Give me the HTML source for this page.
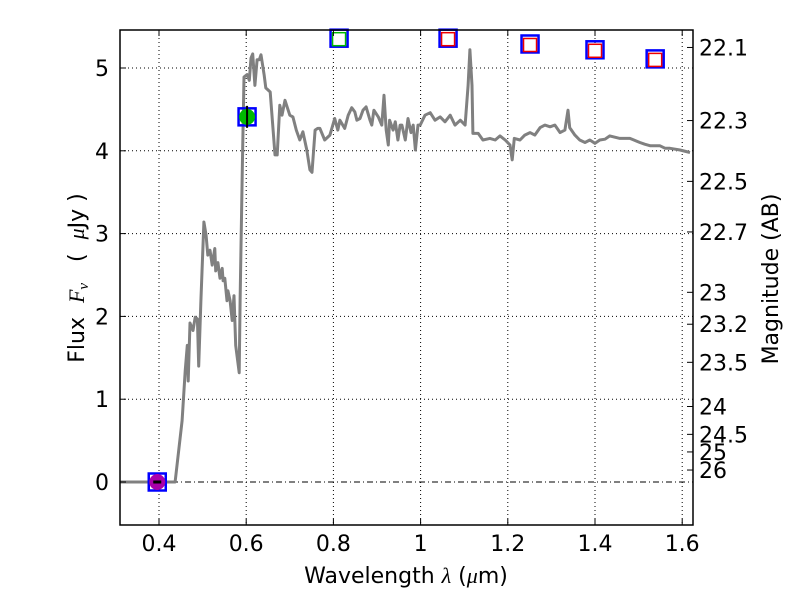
<!DOCTYPE html>
<html><head><meta charset="utf-8"><style>
body{margin:0;background:#fff;width:800px;height:600px;overflow:hidden}
svg text{font-family:"DejaVu Sans","Liberation Sans",sans-serif;fill:#000}
</style></head><body>
<svg id="chart" width="800" height="600" xmlns="http://www.w3.org/2000/svg">
<rect x="0" y="0" width="800" height="600" fill="#fff"/>
<g id="grid"></g>
<g id="plot"></g>
<g id="axes"></g>
<text x="406" y="583" font-size="22" text-anchor="middle">Wavelength  <tspan font-style="italic" font-family="Liberation Serif">λ</tspan> (<tspan font-style="italic" font-family="Liberation Serif">μ</tspan>m)</text>
<text transform="translate(84,278) rotate(-90)" font-size="22" text-anchor="middle" xml:space="preserve">Flux  <tspan font-style="italic" font-family="Liberation Serif">F</tspan><tspan font-style="italic" font-family="Liberation Serif" font-size="15" dy="4">ν</tspan><tspan dy="-4">   (  </tspan><tspan font-style="italic" font-family="Liberation Serif">μ</tspan>Jy )</text>
<text transform="translate(778,279) rotate(-90)" font-size="22" text-anchor="middle">Magnitude (AB)</text>
</svg>
<script>
const specLam=[0.310,0.437,0.453,0.460,0.465,0.467,0.471,0.478,0.483,0.488,0.491,0.496,0.503,0.508,0.512,0.517,0.522,0.528,0.530,0.535,0.540,0.545,0.547,0.551,0.556,0.558,0.563,0.568,0.572,0.576,0.584,0.586,0.591,0.595,0.602,0.607,0.611,0.615,0.620,0.625,0.630,0.634,0.641,0.645,0.655,0.666,0.671,0.677,0.682,0.689,0.700,0.707,0.715,0.723,0.730,0.739,0.746,0.751,0.758,0.764,0.769,0.780,0.792,0.803,0.810,0.815,0.826,0.834,0.842,0.849,0.854,0.861,0.868,0.875,0.884,0.888,0.893,0.903,0.911,0.916,0.921,0.926,0.929,0.937,0.942,0.948,0.953,0.957,0.965,0.971,0.978,0.983,0.988,0.994,0.999,1.010,1.022,1.033,1.045,1.056,1.068,1.079,1.091,1.102,1.109,1.113,1.118,1.120,1.132,1.143,1.159,1.171,1.182,1.194,1.205,1.210,1.215,1.228,1.239,1.251,1.262,1.274,1.285,1.297,1.308,1.320,1.331,1.338,1.342,1.354,1.365,1.377,1.388,1.400,1.411,1.423,1.434,1.457,1.480,1.503,1.514,1.527,1.549,1.561,1.572,1.595,1.618];
const specFlux=[0,0,0.74,1.34,1.65,1.22,1.92,1.83,1.99,1.97,1.40,2.19,3.14,2.98,2.74,2.80,2.62,2.82,2.55,2.65,2.46,2.58,2.43,2.46,2.19,2.31,2.19,1.95,2.25,1.65,1.32,2.19,3.77,4.89,4.92,4.85,5.12,5.17,4.79,5.10,5.10,5.16,4.92,4.76,4.71,3.95,3.95,4.55,4.43,4.61,4.43,4.41,4.25,4.13,4.23,4.01,3.77,3.74,4.25,4.27,4.27,4.13,4.19,4.39,4.25,4.37,4.27,4.43,4.52,4.47,4.37,4.39,4.49,4.53,4.37,4.31,4.49,4.41,4.31,4.67,4.25,4.07,4.37,4.25,4.35,4.13,4.31,4.31,4.13,4.39,4.22,4.31,4.01,4.31,4.31,4.43,4.46,4.37,4.41,4.35,4.43,4.31,4.37,4.31,4.79,5.22,4.79,4.21,4.21,4.13,4.15,4.13,4.18,4.13,4.07,3.89,4.15,4.13,4.19,4.22,4.19,4.28,4.31,4.29,4.31,4.22,4.25,4.49,4.28,4.19,4.13,4.10,4.13,4.09,4.13,4.14,4.18,4.15,4.15,4.10,4.08,4.06,4.06,4.03,4.03,4.01,3.98];
const obsLam=[0.396,0.602];
const obsFlux=[0,4.41];
const obsColor=["#a0a","#0b0"];
const limLam=[0.813,1.063,1.251,1.400,1.538];
const limFlux=[5.36,5.36,5.29,5.22,5.11];
const limColor=["#0b0","#e00","#e00","#e00","#e00"];
const xTicks=[0.4,0.6,0.8,1.0,1.2,1.4,1.6];
const xTickLabels=["0.4","0.6","0.8","1","1.2","1.4","1.6"];
const yTicks=[0,1,2,3,4,5];
const magTicks=[22.1,22.3,22.5,22.7,23,23.2,23.5,24,24.5,25,26];

const L=120,R=693,T=30,B=525;
const X=v=>159+(v-0.4)*436;
const Y=v=>482-v*82.8;
const NS="http://www.w3.org/2000/svg";
function mk(tag,parent,attrs){const e=document.createElementNS(NS,tag);for(const k in attrs)e.setAttribute(k,attrs[k]);parent.appendChild(e);return e;}
const grid=document.getElementById('grid'),plot=document.getElementById('plot'),axes=document.getElementById('axes');

xTicks.forEach((t,i)=>{
  const x=X(t);
  const g=mk('line',grid,{x1:x,x2:x,y1:T,y2:B,stroke:'#000','stroke-width':1,'stroke-dasharray':'1,3'});
  
  
  const tk=mk('line',axes,{x1:x,x2:x,y1:B,y2:B-6,stroke:'#000'});
  
  
  const tk2=mk('line',axes,{x1:x,x2:x,y1:T,y2:T+6,stroke:'#000'});
  
  
  const lb=mk('text',axes,{x:x,y:B+26,'font-size':22,'text-anchor':'middle'});
  lb.textContent=xTickLabels[i];
  
  
});
yTicks.forEach(t=>{
  const y=Y(t);
  const g=mk('line',grid,{x1:L,x2:R,y1:y,y2:y,stroke:'#000','stroke-width':1,'stroke-dasharray':t===0?'6,3,1,3':'1,3'});
  
  
  const tk=mk('line',axes,{x1:L,x2:L+6,y1:y,y2:y,stroke:'#000'});
  
  
  const lb=mk('text',axes,{x:L-11,y:y+8,'font-size':22,'text-anchor':'end'});
  lb.textContent=String(t);
  
  
});
magTicks.forEach(m=>{
  const f=Math.pow(10,(23.9-m)/2.5);
  const y=Y(f);
  const tk=mk('line',axes,{x1:R-6,x2:R,y1:y,y2:y,stroke:'#000'});
  
  
  const lb=mk('text',axes,{x:R+6,y:y+8,'font-size':22});
  lb.textContent=String(m);
  
  
});

const clip=mk('clipPath',plot,{id:'pc'});
mk('rect',clip,{x:L,y:T,width:R-L,height:B-T});
const cg=mk('g',plot,{'clip-path':'url(#pc)'});
const pts=specLam.map((l,i)=>X(l).toFixed(1)+','+Y(specFlux[i]).toFixed(1)).join(' ');
const sp=mk('polyline',cg,{points:pts,fill:'none',stroke:'#808080','stroke-width':3,'stroke-linejoin':'round'});



limLam.forEach((l,i)=>{
  const x=X(l),y=Y(limFlux[i]);
  const b=mk('rect',plot,{x:x-8.5,y:y-8.5,width:17,height:17,fill:'none',stroke:'#00f','stroke-width':2.5});
  
  
  const r=mk('rect',plot,{x:x-6.5,y:y-5.5,width:13,height:13,fill:'#fff',stroke:limColor[i],'stroke-width':1.5});
  
  
});
obsLam.forEach((l,i)=>{
  const x=X(l),y=Y(obsFlux[i]);
  const b=mk('rect',plot,{x:x-8.5,y:y-8.5,width:17,height:17,fill:'none',stroke:'#00f','stroke-width':2.5});
  
  
  const c=mk('circle',plot,{cx:x,cy:y,r:8,fill:obsColor[i]});
  
  
  const e=mk('line',plot,{x1:i?x:x-4,x2:i?x:x+4,y1:y-(i?11:0),y2:y+(i?11:0),stroke:'#000','stroke-width':i?2:3});
  
  
});
const fr=mk('rect',axes,{x:L,y:T,width:R-L,height:B-T,fill:'none',stroke:'#000','stroke-width':1.5});


</script>
</body></html>
